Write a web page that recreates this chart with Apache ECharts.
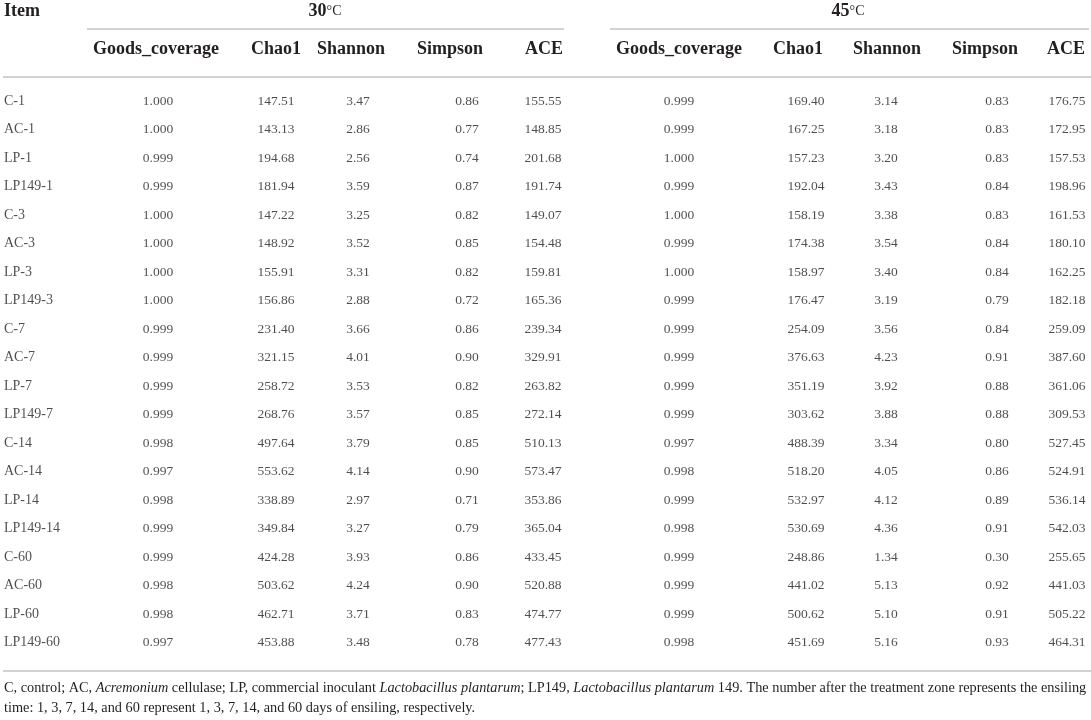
<!DOCTYPE html>
<html>
<head>
<meta charset="utf-8">
<title>Alpha diversity table</title>
<script src="https://cdn.jsdelivr.net/npm/echarts@6.0.0/dist/echarts.min.js"></script>
<style>
  html, body { margin: 0; padding: 0; background: #fff; }
  #container { width: 1091px; height: 720px; }
</style>
</head>
<body>
<div id="container"></div>
<script>
// row labels (treatment-day)
var rows = ['C-1', 'AC-1', 'LP-1', 'LP149-1', 'C-3', 'AC-3', 'LP-3', 'LP149-3',
    'C-7', 'AC-7', 'LP-7', 'LP149-7', 'C-14', 'AC-14', 'LP-14', 'LP149-14',
    'C-60', 'AC-60', 'LP-60', 'LP149-60'];

var metrics = ['Goods_coverage', 'Chao1', 'Shannon', 'Simpson', 'ACE'];
var groups = ['30', '45'];

// 30°C
var goods30 = [1.000, 1.000, 0.999, 0.999, 1.000, 1.000, 1.000, 1.000, 0.999, 0.999,
    0.999, 0.999, 0.998, 0.997, 0.998, 0.999, 0.999, 0.998, 0.998, 0.997];
var chao30 = [147.51, 143.13, 194.68, 181.94, 147.22, 148.92, 155.91, 156.86, 231.40, 321.15,
    258.72, 268.76, 497.64, 553.62, 338.89, 349.84, 424.28, 503.62, 462.71, 453.88];
var shannon30 = [3.47, 2.86, 2.56, 3.59, 3.25, 3.52, 3.31, 2.88, 3.66, 4.01,
    3.53, 3.57, 3.79, 4.14, 2.97, 3.27, 3.93, 4.24, 3.71, 3.48];
var simpson30 = [0.86, 0.77, 0.74, 0.87, 0.82, 0.85, 0.82, 0.72, 0.86, 0.90,
    0.82, 0.85, 0.85, 0.90, 0.71, 0.79, 0.86, 0.90, 0.83, 0.78];
var ace30 = [155.55, 148.85, 201.68, 191.74, 149.07, 154.48, 159.81, 165.36, 239.34, 329.91,
    263.82, 272.14, 510.13, 573.47, 353.86, 365.04, 433.45, 520.88, 474.77, 477.43];

// 45°C
var goods45 = [0.999, 0.999, 1.000, 0.999, 1.000, 0.999, 1.000, 0.999, 0.999, 0.999,
    0.999, 0.999, 0.997, 0.998, 0.999, 0.998, 0.999, 0.999, 0.999, 0.998];
var chao45 = [169.40, 167.25, 157.23, 192.04, 158.19, 174.38, 158.97, 176.47, 254.09, 376.63,
    351.19, 303.62, 488.39, 518.20, 532.97, 530.69, 248.86, 441.02, 500.62, 451.69];
var shannon45 = [3.14, 3.18, 3.20, 3.43, 3.38, 3.54, 3.40, 3.19, 3.56, 4.23,
    3.92, 3.88, 3.34, 4.05, 4.12, 4.36, 1.34, 5.13, 5.10, 5.16];
var simpson45 = [0.83, 0.83, 0.83, 0.84, 0.83, 0.84, 0.84, 0.79, 0.84, 0.91,
    0.88, 0.88, 0.80, 0.86, 0.89, 0.91, 0.30, 0.92, 0.91, 0.93];
var ace45 = [176.75, 172.95, 157.53, 198.96, 161.53, 180.10, 162.25, 182.18, 259.09, 387.60,
    361.06, 309.53, 527.45, 524.91, 536.14, 542.03, 255.65, 441.03, 505.22, 464.31];

var columns = [goods30, chao30, shannon30, simpson30, ace30,
    goods45, chao45, shannon45, simpson45, ace45];
var decimals = [3, 2, 2, 2, 2, 3, 2, 2, 2, 2];

// layout: column anchors (px) for values and headers
var valueX = [158, 276, 358, 467, 543, 679, 806, 886, 997, 1067];
var headX = [156, 276, 351, 450, 544, 679, 798, 887, 985, 1066];
var itemX = 4;

var ink = '#231f20';
var rule = '#d2d2d2';
var serif = 'Liberation Serif';

var dom = document.getElementById('container');
var myChart = echarts.init(dom, null, { renderer: 'canvas' });

var series = [];
// item column
series.push({
    type: 'scatter',
    symbolSize: 0,
    silent: true,
    data: rows.map(function (r) { return [itemX, r]; }),
    label: {
        show: true, position: 'inside', align: 'left', verticalAlign: 'middle',
        color: ink, fontFamily: serif, fontSize: 14,
        formatter: function (p) { return p.value[1]; }
    }
});
// value columns
columns.forEach(function (col, c) {
    series.push({
        type: 'scatter',
        symbolSize: 0,
        silent: true,
        data: col.map(function (v, i) { return [valueX[c], rows[i], v]; }),
        label: {
            show: true, position: 'inside', align: 'center', verticalAlign: 'middle',
            color: ink, fontFamily: serif, fontSize: 13.5,
            formatter: function (p) { return p.value[2].toFixed(decimals[c]); }
        }
    });
});

// header texts and rules
var graphic = [];
function hline(x1, y, x2) {
    graphic.push({
        type: 'line', silent: true,
        shape: { x1: x1, y1: y, x2: x2, y2: y },
        style: { stroke: rule, lineWidth: 2 }
    });
}
function boldText(str, x, y, align) {
    graphic.push({
        type: 'text', x: x, y: y, silent: true,
        style: { text: str, fill: ink, font: 'bold 18px "Liberation Serif"',
            align: align, verticalAlign: 'middle' }
    });
}
boldText('Item', 4, 11, 'left');
var groupCenter = [325, 848];
groups.forEach(function (g, k) {
    graphic.push({
        type: 'text', x: groupCenter[k], y: 11, silent: true,
        style: {
            text: '{b|' + g + '}{n|°C}', align: 'center', verticalAlign: 'middle',
            rich: {
                b: { fill: ink, font: 'bold 18px "Liberation Serif"' },
                n: { fill: ink, font: '14px "Liberation Serif"' }
            }
        }
    });
});
headX.forEach(function (x, c) {
    boldText(metrics[c % 5], x, 49, 'center');
});
hline(87, 29, 564);
hline(610, 29, 1089);
hline(3, 77, 1091);
hline(3, 671, 1091);

var noteFont = '14.3px "Liberation Serif"';
var noteItalicFont = 'italic 14.3px "Liberation Serif"';
graphic.push({
    type: 'text', x: 4, y: 688, silent: true,
    style: {
        text: '{n|C, control; AC, }{i|Acremonium}{n| cellulase; LP, commercial inoculant }' +
            '{i|Lactobacillus plantarum}{n|; LP149, }{i|Lactobacillus plantarum}' +
            '{n| 149. The number after the treatment zone represents the ensiling}',
        align: 'left', verticalAlign: 'middle',
        rich: { n: { fill: ink, font: noteFont }, i: { fill: ink, font: noteItalicFont } }
    }
});
graphic.push({
    type: 'text', x: 4, y: 708, silent: true,
    style: {
        text: 'time: 1, 3, 7, 14, and 60 represent 1, 3, 7, 14, and 60 days of ensiling, respectively.',
        fill: ink, font: noteFont, align: 'left', verticalAlign: 'middle'
    }
});

var option = {
    backgroundColor: '#ffffff',
    animation: false,
    grid: { left: 0, right: 0, top: 87, bottom: 63 },
    xAxis: { type: 'value', min: 0, max: 1091, show: false },
    yAxis: { type: 'category', data: rows, inverse: true, show: false },
    graphic: graphic,
    series: series
};

if (option && typeof option === 'object') {
    myChart.setOption(option);
}
</script>
</body>
</html>
